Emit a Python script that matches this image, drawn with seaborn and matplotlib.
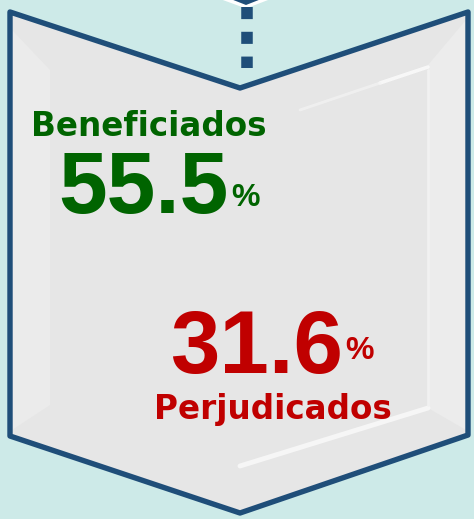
import matplotlib
matplotlib.use("Agg")
import matplotlib.pyplot as plt
import seaborn as sns
from matplotlib.patches import Polygon

# data
categories = ['Beneficiados', 'Perjudicados']
values = [55.5, 31.6]
colors = ['#006400', '#c00000']

sns.set_theme(style='white')
plt.rcParams['font.family'] = ['Liberation Sans', 'DejaVu Sans']

bg = '#cdeae8'
blue = '#1f4e79'

fig = plt.figure(figsize=(4.74, 5.19), dpi=100, facecolor=bg)
ax = fig.add_axes([0, 0, 1, 1])
ax.set_xlim(0, 474)
ax.set_ylim(519, 0)
ax.set_facecolor(bg)
ax.axis('off')

# tip of the previous chevron peeking in at the top
ax.add_patch(Polygon([(205, -8), (246, 7), (285, -8)], closed=True,
                     facecolor='white', edgecolor='white', lw=2, zorder=1))
ax.add_patch(Polygon([(218, -6), (246, 5), (274, -6)], closed=True,
                     facecolor=blue, edgecolor='none', zorder=1.5))

# dotted connector
ax.plot([247.5, 247.5], [7, 68], color=blue, lw=8.3, ls=(0, (1.05, 1.1)),
        solid_capstyle='butt', zorder=2)

# chevron body
outer = [(10, 12), (240, 88), (468, 12), (468, 435), (240, 513), (10, 436)]
ax.add_patch(Polygon(outer, closed=True, facecolor='#e6e6e6', edgecolor='none', zorder=3))
# bevel faces
ax.add_patch(Polygon([(12, 30), (50, 70), (50, 405), (12, 430)], closed=True,
                     facecolor='#ebebeb', edgecolor='none', zorder=4))
ax.add_patch(Polygon([(466, 20), (428, 65), (428, 408), (466, 430)], closed=True,
                     facecolor='#ececec', edgecolor='none', zorder=4))
# bevel highlights
ax.plot([428, 380], [67, 83], color='#fafafa', lw=2.5, alpha=0.9, zorder=5)
ax.plot([380, 300], [83, 110], color='#f4f4f4', lw=2, alpha=0.7, zorder=5)
ax.plot([428, 240], [408, 466], color='#f8f8f8', lw=3.5, alpha=0.9, zorder=5)
ax.plot([428, 428], [70, 405], color='#f1f1f1', lw=2, zorder=5)
ax.add_patch(Polygon(outer, closed=True, facecolor='none', edgecolor=blue,
                     lw=3.9, joinstyle='round', zorder=6))

# labels
word_font = ['DejaVu Sans']
ax.text(149, 127, categories[0], color=colors[0], fontsize=23.5, fontweight='bold',
        family=word_font, ha='center', va='center', zorder=7)
ax.text(229, 213, f'{values[0]:.1f}', color=colors[0], fontsize=63, fontweight='bold',
        ha='right', va='baseline', zorder=7)
ax.text(231, 206, '%', color=colors[0], fontsize=23, fontweight='bold',
        ha='left', va='baseline', zorder=7)

ax.text(343, 373, f'{values[1]:.1f}', color=colors[1], fontsize=64, fontweight='bold',
        ha='right', va='baseline', zorder=7)
ax.text(345, 359, '%', color=colors[1], fontsize=23, fontweight='bold',
        ha='left', va='baseline', zorder=7)
ax.text(273, 409, categories[1], color=colors[1], fontsize=23.5, fontweight='bold',
        family=word_font, ha='center', va='center', zorder=7)

fig.savefig('out.png', dpi=100, facecolor=bg)
